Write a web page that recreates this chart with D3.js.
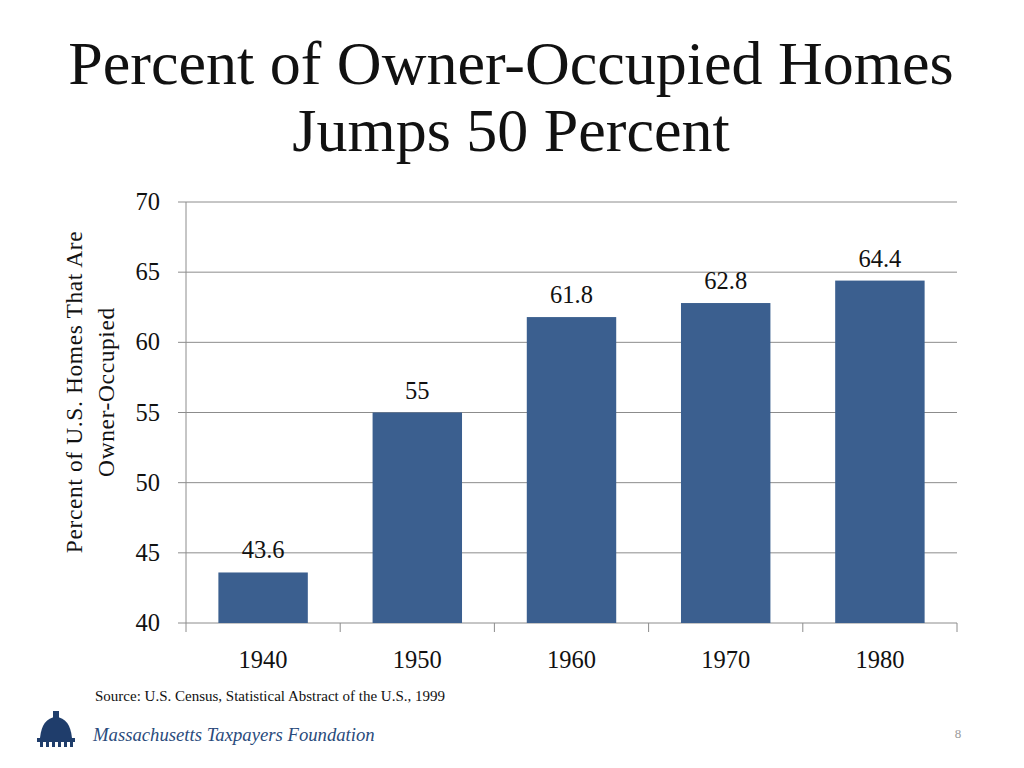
<!DOCTYPE html>
<html><head><meta charset="utf-8">
<script src="https://cdn.jsdelivr.net/npm/d3@7"></script>
<style>body{margin:0;background:#fff}svg{display:block}</style>
</head><body>
<svg id="c" width="1024" height="768"></svg>
<script>
const categories = ["1940","1950","1960","1970","1980"];
const values = [43.6, 55, 61.8, 62.8, 64.4];
const valueLabels = ["43.6","55","61.8","62.8","64.4"];
const yTicks = [40,45,50,55,60,65,70];
const titleLines = ["Percent of Owner-Occupied Homes","Jumps 50 Percent"];
const yTitleLines = ["Percent of U.S.  Homes That Are","Owner-Occupied"];
const sourceText = "Source: U.S. Census, Statistical Abstract of the U.S., 1999";

const svg = d3.select("#c");
const serif = "'Liberation Serif', 'DejaVu Serif', serif";
const L=186, R=957, T=202, B=623;
const x = d3.scaleBand().domain(categories).range([L,R]).paddingInner(0.42).paddingOuter(0.21);
const y = d3.scaleLinear().domain([40,70]).range([B,T]);

// title
svg.selectAll("text.title").data(titleLines).enter().append("text")
  .attr("x",511).attr("y",(d,i)=>84+i*67).attr("text-anchor","middle")
  .attr("font-family",serif).attr("font-size",62).attr("fill","#111").text(d=>d);

// gridlines
svg.append("g").selectAll("line").data(yTicks).enter().append("line")
  .attr("x1",L-8).attr("x2",R).attr("y1",d=>y(d)).attr("y2",d=>y(d))
  .attr("stroke","#8c8c8c").attr("stroke-width",1);
// y axis line
svg.append("line").attr("x1",L).attr("x2",L).attr("y1",T).attr("y2",B).attr("stroke","#8c8c8c");
// y tick labels
svg.append("g").selectAll("text").data(yTicks).enter().append("text")
  .attr("x",160).attr("y",d=>y(d)+8).attr("text-anchor","end")
  .attr("font-family",serif).attr("font-size",24.5).attr("fill","#111").text(d=>d);

// x axis ticks
const xt = categories.map(c=>x(c)-x.step()*x.paddingInner()/2).concat([R]);
svg.append("g").selectAll("line").data(xt).enter().append("line")
  .attr("x1",d=>d).attr("x2",d=>d).attr("y1",B).attr("y2",B+9).attr("stroke","#8c8c8c");
svg.append("g").selectAll("text").data(categories).enter().append("text")
  .attr("x",d=>x(d)+x.bandwidth()/2).attr("y",668).attr("text-anchor","middle")
  .attr("font-family",serif).attr("font-size",24.5).attr("fill","#111").text(d=>d);

// bars
svg.append("g").selectAll("rect").data(values).enter().append("rect")
  .attr("x",(d,i)=>x(categories[i])).attr("width",x.bandwidth())
  .attr("y",d=>y(d)).attr("height",d=>B-y(d)).attr("fill","#3b5f8f");
svg.append("g").selectAll("text").data(values).enter().append("text")
  .attr("x",(d,i)=>x(categories[i])+x.bandwidth()/2).attr("y",d=>y(d)-14).attr("text-anchor","middle")
  .attr("font-family",serif).attr("font-size",24.5).attr("fill","#111").text((d,i)=>valueLabels[i]);

// y title
svg.append("g").attr("transform","translate(0,392) rotate(-90)")
  .selectAll("text").data(yTitleLines).enter().append("text")
  .attr("x",0).attr("y",(d,i)=>82+i*32).attr("text-anchor","middle")
  .attr("font-family",serif).attr("font-size",23.5).attr("letter-spacing",0.6).attr("fill","#111").text(d=>d);

// source
svg.append("text").attr("x",95).attr("y",701).attr("font-family",serif).attr("font-size",15).attr("fill","#111").text(sourceText);

// logo
const lg = svg.append("g").attr("fill","#1f3d6b");
lg.append("rect").attr("x",53).attr("y",711).attr("width",6).attr("height",9);
lg.append("path").attr("d","M40,738 Q42,718 56,717 Q70,718 72,738 Z");
lg.append("rect").attr("x",37).attr("y",738).attr("width",38).attr("height",4);
[40,46,52,58,64,70].forEach(px=>lg.append("rect").attr("x",px).attr("y",742).attr("width",3).attr("height",5));
svg.append("text").attr("x",93).attr("y",741).attr("font-family",serif).attr("font-size",18.7).attr("font-style","italic").attr("fill","#2a4b7c").text("Massachusetts Taxpayers Foundation");

svg.append("text").attr("x",958).attr("y",738).attr("text-anchor","middle").attr("font-family",serif).attr("font-size",13).attr("fill","#999").text("8");
</script>
</body></html>
